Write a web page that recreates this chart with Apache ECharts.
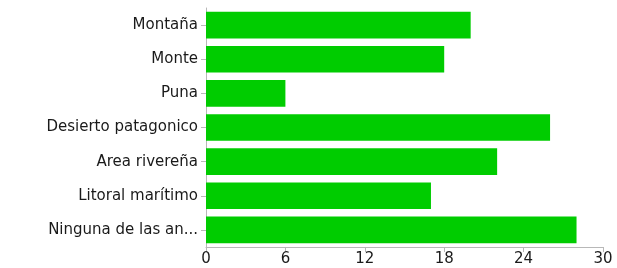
<!DOCTYPE html>
<html lang="es">
<head>
    <meta charset="UTF-8">
    <title>Entornos</title>
    <script src="https://cdn.jsdelivr.net/npm/echarts@6/dist/echarts.min.js"></script>
    <style>
        body { margin: 0; background: #fff; }
        #chart { width: 617px; height: 268px; }
    </style>
</head>
<body>
    <div id="chart"></div>
    <script>
        // categorias de arriba hacia abajo
        const categories = ['Montaña', 'Monte', 'Puna', 'Desierto patagonico', 'Area rivereña', 'Litoral marítimo', 'Ninguna de las anteriores'];
        const counts = [20, 18, 6, 26, 22, 17, 28];
        const xTicks = [0, 6, 12, 18, 24, 30];

        const chart = echarts.init(document.getElementById('chart'));
        const axisGray = '#b8b8b8';
        const labelFont = { color: '#1a1a1a', fontSize: 15, fontFamily: 'DejaVu Sans' };

        chart.setOption({
            animation: false,
            grid: { left: 206, right: 14, top: 8, bottom: 21, containLabel: false },
            xAxis: {
                type: 'value',
                min: xTicks[0],
                max: xTicks[xTicks.length - 1],
                interval: xTicks[1] - xTicks[0],
                axisLine: { show: true, lineStyle: { color: axisGray } },
                axisTick: { show: true, length: 5, lineStyle: { color: axisGray } },
                splitLine: { show: false },
                axisLabel: Object.assign({ margin: 5 }, labelFont)
            },
            yAxis: {
                type: 'category',
                inverse: true,
                data: categories,
                axisLine: { show: true, lineStyle: { color: axisGray } },
                axisTick: { show: true, alignWithLabel: true, length: 5, lineStyle: { color: axisGray } },
                axisLabel: Object.assign({
                    margin: 8,
                    width: 155,
                    overflow: 'truncate',
                    ellipsis: '...'
                }, labelFont)
            },
            series: [{
                type: 'bar',
                data: counts,
                barCategoryGap: '22%',
                itemStyle: { color: '#00cc00' }
            }]
        });
    </script>
</body>
</html>
